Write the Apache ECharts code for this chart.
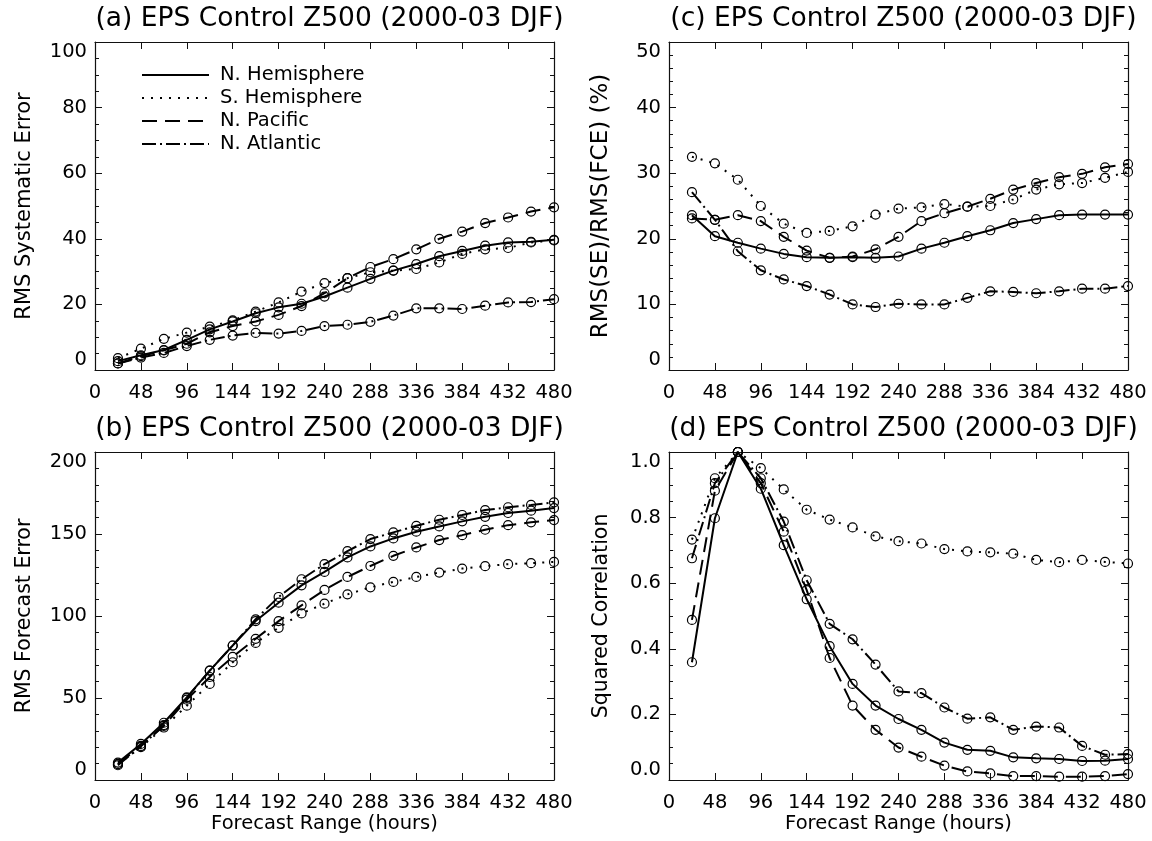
<!DOCTYPE html>
<html>
<head>
<meta charset="utf-8">
<script src="https://cdn.jsdelivr.net/npm/echarts@6/dist/echarts.min.js"></script>
<style>
html,body{margin:0;padding:0;background:#fff;}
#chart{width:1152px;height:841px;}
</style>
</head>
<body>
<div id="chart"></div>
<script>
// ---------------- data ----------------
const hours = [24,48,72,96,120,144,168,192,216,240,264,288,312,336,360,384,408,432,456,480];
const seriesNames = ['N. Hemisphere','S. Hemisphere','N. Pacific','N. Atlantic'];
const xTicks = [0,48,96,144,192,240,288,336,384,432,480];

const panelTitles = [
  '(a) EPS Control Z500 (2000-03 DJF)',
  '(b) EPS Control Z500 (2000-03 DJF)',
  '(c) EPS Control Z500 (2000-03 DJF)',
  '(d) EPS Control Z500 (2000-03 DJF)'
];
const yNames = ['RMS Systematic Error','RMS Forecast Error','RMS(SE)/RMS(FCE) (%)','Squared Correlation'];
const xName = 'Forecast Range (hours)';

// (a) RMS systematic error
const a_nh = [2.7,4.5,6.1,9.2,12.4,14.8,17.3,19.1,20.2,22.4,25.1,27.8,30.3,32.3,34.7,36.3,37.9,38.9,39.1,39.7];
const a_sh = [3.6,6.5,9.5,11.4,13.2,15.1,17.8,20.6,23.9,26.5,28.0,29.8,30.3,30.8,32.8,35.4,36.8,37.2,38.9,39.5];
const a_np = [2.0,4.2,6.0,8.0,11.5,13.4,14.8,16.8,19.5,23.4,28.0,31.4,33.8,36.8,40.0,42.2,44.8,46.5,48.3,49.6];
const a_na = [2.0,3.8,5.2,7.3,9.2,10.5,11.3,11.1,11.9,13.4,13.8,14.7,16.6,18.8,18.8,18.6,19.6,20.6,20.7,21.6];

// (b) RMS forecast error
const b_nh = [10.6,22.0,34.9,50.4,66.7,82.0,96.9,108.1,118.7,126.9,135.7,142.4,147.3,151.4,154.6,157.7,160.5,162.8,164.2,165.8];
const b_sh = [9.6,20.0,32.0,45.3,58.6,71.8,83.6,92.8,101.6,107.5,113.2,117.5,120.8,123.8,126.5,128.9,130.4,131.6,132.2,133.0];
const b_np = [9.8,20.8,33.0,49.0,62.8,75.1,86.1,96.9,106.5,115.9,123.8,130.5,136.7,141.8,146.3,149.3,152.6,155.4,157.1,158.5];
const b_na = [9.0,20.5,33.5,50.0,66.7,82.0,98.0,111.6,122.4,131.6,139.5,146.9,151.0,155.0,158.7,161.6,164.6,166.3,167.7,169.3];

// (c) RMS(SE)/RMS(FCE) (%)
const c_nh = [23.6,20.4,19.4,18.5,17.7,17.2,17.1,17.2,17.1,17.3,18.5,19.4,20.4,21.3,22.4,23.0,23.6,23.7,23.7,23.7];
const c_sh = [32.5,31.5,29.0,25.0,22.3,20.9,21.2,21.9,23.7,24.6,24.8,25.3,24.9,25.0,26.0,27.5,28.3,28.5,29.3,30.2];
const c_np = [23.1,22.9,23.6,22.7,20.3,18.2,17.1,17.3,18.4,20.3,22.7,23.9,24.9,26.1,27.5,28.5,29.4,29.9,30.9,31.4];
const c_na = [27.1,22.9,18.1,15.2,13.8,12.8,11.5,10.0,9.6,10.1,10.0,10.0,11.0,12.0,11.9,11.7,12.0,12.4,12.4,12.8];

// (d) Squared correlation
const d_nh = [0.359,0.798,1.0,0.888,0.716,0.551,0.408,0.293,0.227,0.186,0.153,0.114,0.092,0.089,0.069,0.066,0.064,0.058,0.059,0.064];
const d_sh = [0.733,0.920,1.0,0.951,0.886,0.824,0.794,0.770,0.743,0.728,0.721,0.704,0.697,0.694,0.690,0.671,0.664,0.671,0.665,0.660];
const d_np = [0.488,0.882,1.0,0.905,0.757,0.579,0.372,0.227,0.153,0.099,0.071,0.044,0.026,0.020,0.012,0.012,0.010,0.010,0.012,0.018];
const d_na = [0.676,0.905,1.0,0.920,0.788,0.609,0.476,0.429,0.352,0.270,0.265,0.221,0.187,0.191,0.153,0.163,0.160,0.104,0.077,0.079];

// y axis scales per panel
const yMin = [0, 0, 0, 0];
const yMax = [100, 200, 50, 1.0];
const yInterval = [20, 50, 10, 0.2];
const yMinorSplit = [4, 5, 5, 4];

// ---------------- layout / style ----------------
const FONT = 'DejaVu Sans';
const grids = [
  {left: 95,  top: 42,  width: 459, height: 328},
  {left: 95,  top: 452, width: 459, height: 328},
  {left: 669, top: 42,  width: 459, height: 328},
  {left: 669, top: 452, width: 459, height: 328}
];
const yNameSize = [21, 20.5, 23, 20.5];
const yNameGap = [60, 60, 56, 57];
const panelData = [
  [a_nh, a_sh, a_np, a_na],
  [b_nh, b_sh, b_np, b_na],
  [c_nh, c_sh, c_np, c_na],
  [d_nh, d_sh, d_np, d_na]
];
const lineTypes = ['solid', [2, 7], [15, 8], [14, 4, 2, 4]];
const AX = '#111';

const xAxes = [], yAxes = [], series = [], titles = [];
grids.forEach((g, i) => {
  const bottomRow = (i === 1 || i === 3);
  xAxes.push({
    type: 'value', gridIndex: i, min: 0, max: 480, interval: 48, position: 'bottom',
    name: bottomRow ? xName : '', nameLocation: 'middle', nameGap: 31,
    nameTextStyle: {fontFamily: FONT, fontSize: 19.5, color: '#000'},
    axisLine: {show: true, onZero: false, lineStyle: {color: AX, width: 1.2}},
    axisTick: {show: true, inside: true, length: 7, lineStyle: {color: AX, width: 1}},
    axisLabel: {show: true, margin: 13, fontFamily: FONT, fontSize: 19.5, color: '#000'},
    splitLine: {show: false}
  });
  xAxes.push({
    type: 'value', gridIndex: i, min: 0, max: 480, interval: 48, position: 'top',
    axisLine: {show: true, onZero: false, lineStyle: {color: AX, width: 1.2}},
    axisTick: {show: true, inside: true, length: 7, lineStyle: {color: AX, width: 1}},
    axisLabel: {show: false}, splitLine: {show: false}
  });
  const fmt = (i === 3) ? (v => v.toFixed(1)) : (v => String(v));
  yAxes.push({
    type: 'value', gridIndex: i, min: yMin[i], max: yMax[i], interval: yInterval[i], position: 'left',
    name: yNames[i], nameLocation: 'middle', nameGap: yNameGap[i],
    nameTextStyle: {fontFamily: FONT, fontSize: yNameSize[i], color: '#000'},
    axisLine: {show: true, onZero: false, lineStyle: {color: AX, width: 1.2}},
    axisTick: {show: true, inside: true, length: 7, lineStyle: {color: AX, width: 1}},
    minorTick: {show: true, splitNumber: yMinorSplit[i], length: 4, lineStyle: {color: AX, width: 1}},
    axisLabel: {show: true, margin: 8, fontFamily: FONT, fontSize: 19.5, color: '#000', formatter: fmt,
      verticalAlignMinLabel: 'bottom', verticalAlignMaxLabel: 'top'},
    splitLine: {show: false}, minorSplitLine: {show: false}
  });
  yAxes.push({
    type: 'value', gridIndex: i, min: yMin[i], max: yMax[i], interval: yInterval[i], position: 'right',
    axisLine: {show: true, onZero: false, lineStyle: {color: AX, width: 1.2}},
    axisTick: {show: true, inside: true, length: 7, lineStyle: {color: AX, width: 1}},
    minorTick: {show: true, splitNumber: yMinorSplit[i], length: 4, lineStyle: {color: AX, width: 1}},
    axisLabel: {show: false}, splitLine: {show: false}, minorSplitLine: {show: false}
  });
  titles.push({
    text: panelTitles[i], left: g.left + g.width / 2, textAlign: 'center', top: g.top - 41,
    textStyle: {fontFamily: FONT, fontSize: 26.5, fontWeight: 'normal', color: '#000'}
  });
  panelData[i].forEach((vals, k) => {
    series.push({
      name: seriesNames[k], type: 'line',
      xAxisIndex: i * 2, yAxisIndex: i * 2,
      data: hours.map((h, j) => [h, vals[j]]),
      symbol: 'circle', symbolSize: 9, showSymbol: true,
      itemStyle: {color: 'rgba(255,255,255,0)', borderColor: '#000', borderWidth: 1.2},
      lineStyle: {color: '#000', width: 2, type: lineTypes[k], cap: 'butt'},
      emphasis: {disabled: true},
      clip: false, animation: false, z: 3 + k
    });
  });
});

const option = {
  backgroundColor: '#fff',
  animation: false,
  title: titles,
  grid: grids,
  xAxis: xAxes,
  yAxis: yAxes,
  legend: {
    orient: 'vertical', left: 141, top: 65, padding: 0,
    itemWidth: 67, itemHeight: 14, itemGap: 3,
    data: seriesNames,
    itemStyle: {opacity: 0},
    textStyle: {fontFamily: FONT, fontSize: 19.5, color: '#000', lineHeight: 20, padding: [0, 0, 0, 6]},
    selectedMode: false
  },
  series: series
};

const chart = echarts.init(document.getElementById('chart'), null, {renderer: 'canvas'});
chart.setOption(option);
</script>
</body>
</html>
